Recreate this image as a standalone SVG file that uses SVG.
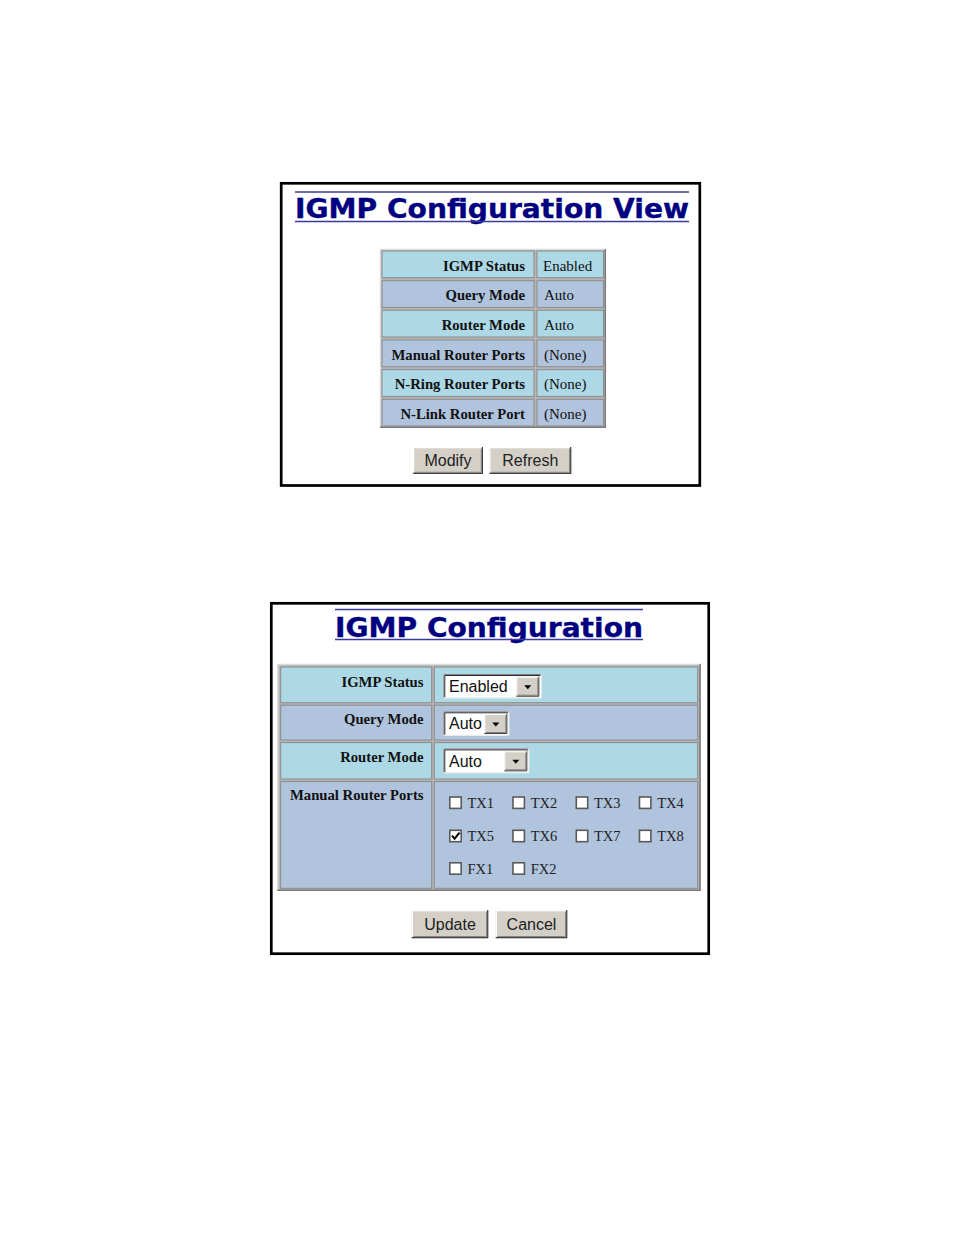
<svg xmlns="http://www.w3.org/2000/svg" width="954" height="1235" viewBox="0 0 954 1235">
<style>
.frame{fill:#fff;stroke:#000;stroke-width:2.7}
.title{font-family:"DejaVu Sans",Verdana,sans-serif;font-weight:bold;fill:#000080;stroke:#000080;stroke-width:0.35}
.tline{stroke:#3a3a9c;stroke-width:1.4}
.lb{fill:#add8e6}
.ls{fill:#b0c4de}
.cell{stroke:#8c8c8c;stroke-width:1}
.lab{font-family:"Liberation Serif","Times New Roman",serif;font-weight:bold;font-size:14.7px;fill:#111;text-anchor:end}
.val{font-family:"Liberation Serif","Times New Roman",serif;font-size:15px;fill:#111}
.btn{fill:#d4d0c8}
.btxt{font-family:"Liberation Sans",Arial,sans-serif;font-size:16px;fill:#222;text-anchor:middle}
.hi{stroke:#fff;stroke-width:1.2;fill:none}
.sh{stroke:#404040;stroke-width:1.2;fill:none}
.sh2{stroke:#808080;stroke-width:1;fill:none}
.sel{font-family:"Liberation Sans",Arial,sans-serif;font-size:16px;fill:#111}
.cb{fill:#fff;stroke:#5a5a5a;stroke-width:1.6}
.cbt{font-family:"Liberation Serif","Times New Roman",serif;font-size:14.5px;fill:#222}
</style>
<defs>
<g id="arrowbtn">
<rect x="0" y="0" width="23" height="20" fill="#d4d0c8"/>
<path d="M0.5 20V0.5H23" stroke="#fff" stroke-width="1" fill="none"/>
<path d="M0 19.5H22.5V0" stroke="#404040" stroke-width="1" fill="none"/>
<path d="M1.5 18.5H21.5V1.5" stroke="#808080" stroke-width="1" fill="none"/>
<path d="M8 8.5h7l-3.5 4z" fill="#000"/>
</g>
</defs>

<rect width="954" height="1235" fill="#fff"/>

<!-- ===== Panel 1: IGMP Configuration View ===== -->
<g id="panel-view">
<rect class="frame" x="281.2" y="183.3" width="418.6" height="302.2"/>
<g id="view-title">
<line class="tline" x1="295" y1="192" x2="689" y2="192"/>
<text class="title" x="295" y="217.5" font-size="26" textLength="394" lengthAdjust="spacingAndGlyphs">IGMP Configuration View</text>
<line class="tline" x1="295" y1="221.5" x2="689" y2="221.5"/>
</g>
<g id="view-table">
<rect x="380" y="249" width="226" height="179" fill="#b4b4b4"/>
<path d="M380.5 428V249.5H606" stroke="#dcdcdc" stroke-width="1.5" fill="none"/>
<path d="M380 427.3H605.3V249" stroke="#7a7a7a" stroke-width="1.5" fill="none"/>
<g id="row-igmp-status">
<rect class="lb cell" x="382" y="251" width="152" height="26.7"/>
<rect class="lb cell" x="537" y="251" width="66.5" height="26.7"/>
<text class="lab" x="525" y="270.5">IGMP Status</text>
<text class="val" x="543" y="270.5">Enabled</text>
</g>
<g id="row-query-mode">
<rect class="ls cell" x="382" y="280.7" width="152" height="26.7"/>
<rect class="ls cell" x="537" y="280.7" width="66.5" height="26.7"/>
<text class="lab" x="525" y="300.2">Query Mode</text>
<text class="val" x="544" y="300.2">Auto</text>
</g>
<g id="row-router-mode">
<rect class="lb cell" x="382" y="310.3" width="152" height="26.7"/>
<rect class="lb cell" x="537" y="310.3" width="66.5" height="26.7"/>
<text class="lab" x="525" y="329.8">Router Mode</text>
<text class="val" x="544" y="329.8">Auto</text>
</g>
<g id="row-manual">
<rect class="ls cell" x="382" y="340" width="152" height="26.7"/>
<rect class="ls cell" x="537" y="340" width="66.5" height="26.7"/>
<text class="lab" x="525" y="359.5">Manual Router Ports</text>
<text class="val" x="544" y="359.5">(None)</text>
</g>
<g id="row-nring">
<rect class="lb cell" x="382" y="369.7" width="152" height="26.7"/>
<rect class="lb cell" x="537" y="369.7" width="66.5" height="26.7"/>
<text class="lab" x="525" y="389.2">N-Ring Router Ports</text>
<text class="val" x="544" y="389.2">(None)</text>
</g>
<g id="row-nlink">
<rect class="ls cell" x="382" y="399.3" width="152" height="26.7"/>
<rect class="ls cell" x="537" y="399.3" width="66.5" height="26.7"/>
<text class="lab" x="525" y="418.8">N-Link Router Port</text>
<text class="val" x="544" y="418.8">(None)</text>
</g>
</g>
<g id="btn-modify">
<rect class="btn" x="413" y="447" width="70" height="27"/>
<path class="hi" d="M413.6 474V447.6H483"/>
<path class="sh" d="M413 473.4H482.4V447"/>
<path class="sh2" d="M414.5 472.3H481.3V448.5"/>
<text class="btxt" x="448" y="466">Modify</text>
</g>
<g id="btn-refresh">
<rect class="btn" x="489.3" y="447" width="82" height="27"/>
<path class="hi" d="M489.9 474V447.6H571.3"/>
<path class="sh" d="M489.3 473.4H570.7V447"/>
<path class="sh2" d="M490.8 472.3H569.6V448.5"/>
<text class="btxt" x="530.3" y="466">Refresh</text>
</g>
</g>

<!-- ===== Panel 2: IGMP Configuration ===== -->
<g id="panel-config">
<rect class="frame" x="271.3" y="603.3" width="437.4" height="350.4"/>
<g id="config-title">
<line class="tline" x1="335" y1="609.5" x2="643" y2="609.5"/>
<text class="title" x="335" y="636.5" font-size="27" textLength="308" lengthAdjust="spacingAndGlyphs">IGMP Configuration</text>
<line class="tline" x1="335" y1="639.5" x2="643" y2="639.5"/>
</g>
<g id="config-table">
<rect x="277.3" y="664" width="423.4" height="227" fill="#b4b4b4"/>
<path d="M277.8 891V664.5H700.7" stroke="#dcdcdc" stroke-width="1.5" fill="none"/>
<path d="M277.3 890.3H700V664" stroke="#7a7a7a" stroke-width="1.5" fill="none"/>
<g id="cfg-row-igmp-status">
<rect class="lb cell" x="280.7" y="667" width="151" height="35.7"/>
<rect class="lb cell" x="434.3" y="667" width="263.4" height="35.7"/>
<text class="lab" x="423.5" y="687.3">IGMP Status</text>
<g id="sel-status">
<rect x="443.3" y="674" width="98.4" height="24.3" fill="#fff"/>
<path d="M443.8 698.3V674.5H541.7" stroke="#808080" stroke-width="1" fill="none"/>
<path d="M444.8 697.3V675.5H540.7" stroke="#303030" stroke-width="1" fill="none"/>
<path d="M443.3 697.8H541.2V674" stroke="#e8e8e8" stroke-width="1" fill="none"/>
<text class="sel" x="449" y="691.7">Enabled</text>
<use href="#arrowbtn" x="516.3" y="676.7"/>
</g>
</g>
<g id="cfg-row-query-mode">
<rect class="ls cell" x="280.7" y="705.2" width="151" height="34.8"/>
<rect class="ls cell" x="434.3" y="705.2" width="263.4" height="34.8"/>
<text class="lab" x="423.5" y="724.2">Query Mode</text>
<g id="sel-query">
<rect x="443.3" y="711.3" width="66" height="24.5" fill="#fff"/>
<path d="M443.8 735.8V711.8H509.3" stroke="#808080" stroke-width="1" fill="none"/>
<path d="M444.8 734.8V712.8H508.3" stroke="#303030" stroke-width="1" fill="none"/>
<path d="M443.3 735.3H508.8V711.3" stroke="#e8e8e8" stroke-width="1" fill="none"/>
<text class="sel" x="449" y="729.2">Auto</text>
<use href="#arrowbtn" x="484.3" y="714"/>
</g>
</g>
<g id="cfg-row-router-mode">
<rect class="lb cell" x="280.7" y="742.6" width="151" height="36.4"/>
<rect class="lb cell" x="434.3" y="742.6" width="263.4" height="36.4"/>
<text class="lab" x="423.5" y="761.7">Router Mode</text>
<g id="sel-router">
<rect x="443.3" y="748.4" width="86" height="24.8" fill="#fff"/>
<path d="M443.8 773.2V748.9H529.3" stroke="#808080" stroke-width="1" fill="none"/>
<path d="M444.8 772.2V749.9H528.3" stroke="#303030" stroke-width="1" fill="none"/>
<path d="M443.3 772.7H528.8V748.4" stroke="#e8e8e8" stroke-width="1" fill="none"/>
<text class="sel" x="449" y="767">Auto</text>
<use href="#arrowbtn" x="504.3" y="751.3"/>
</g>
</g>
<g id="cfg-row-manual">
<rect class="ls cell" x="280.7" y="781.6" width="151" height="106.7"/>
<rect class="ls cell" x="434.3" y="781.6" width="263.4" height="106.7"/>
<text class="lab" x="423.5" y="800">Manual Router Ports</text>
<g id="ports">
<rect class="cb" x="449.8" y="797" width="11.4" height="11.4"/><text class="cbt" x="467.5" y="808">TX1</text>
<rect class="cb" x="513" y="797" width="11.4" height="11.4"/><text class="cbt" x="530.7" y="808">TX2</text>
<rect class="cb" x="576.3" y="797" width="11.4" height="11.4"/><text class="cbt" x="594" y="808">TX3</text>
<rect class="cb" x="639.5" y="797" width="11.4" height="11.4"/><text class="cbt" x="657.2" y="808">TX4</text>
<rect class="cb" x="449.8" y="830.3" width="11.4" height="11.4"/><text class="cbt" x="467.5" y="841.3">TX5</text>
<path d="M452 835.6l2.6 3l5-6" stroke="#000" stroke-width="2" fill="none"/>
<rect class="cb" x="513" y="830.3" width="11.4" height="11.4"/><text class="cbt" x="530.7" y="841.3">TX6</text>
<rect class="cb" x="576.3" y="830.3" width="11.4" height="11.4"/><text class="cbt" x="594" y="841.3">TX7</text>
<rect class="cb" x="639.5" y="830.3" width="11.4" height="11.4"/><text class="cbt" x="657.2" y="841.3">TX8</text>
<rect class="cb" x="449.8" y="862.8" width="11.4" height="11.4"/><text class="cbt" x="467.5" y="873.8">FX1</text>
<rect class="cb" x="513" y="862.8" width="11.4" height="11.4"/><text class="cbt" x="530.7" y="873.8">FX2</text>
</g>
</g>
</g>
<g id="btn-update">
<rect class="btn" x="411.7" y="910" width="76.6" height="28.3"/>
<path class="hi" d="M412.3 938.3V910.6H488.3"/>
<path class="sh" d="M411.7 937.7H487.7V910"/>
<path class="sh2" d="M413.2 936.6H486.6V911.5"/>
<text class="btxt" x="450" y="930">Update</text>
</g>
<g id="btn-cancel">
<rect class="btn" x="495.7" y="910" width="71.6" height="28.3"/>
<path class="hi" d="M496.3 938.3V910.6H567.3"/>
<path class="sh" d="M495.7 937.7H566.7V910"/>
<path class="sh2" d="M497.2 936.6H565.6V911.5"/>
<text class="btxt" x="531.5" y="930">Cancel</text>
</g>
</g>
</svg>
